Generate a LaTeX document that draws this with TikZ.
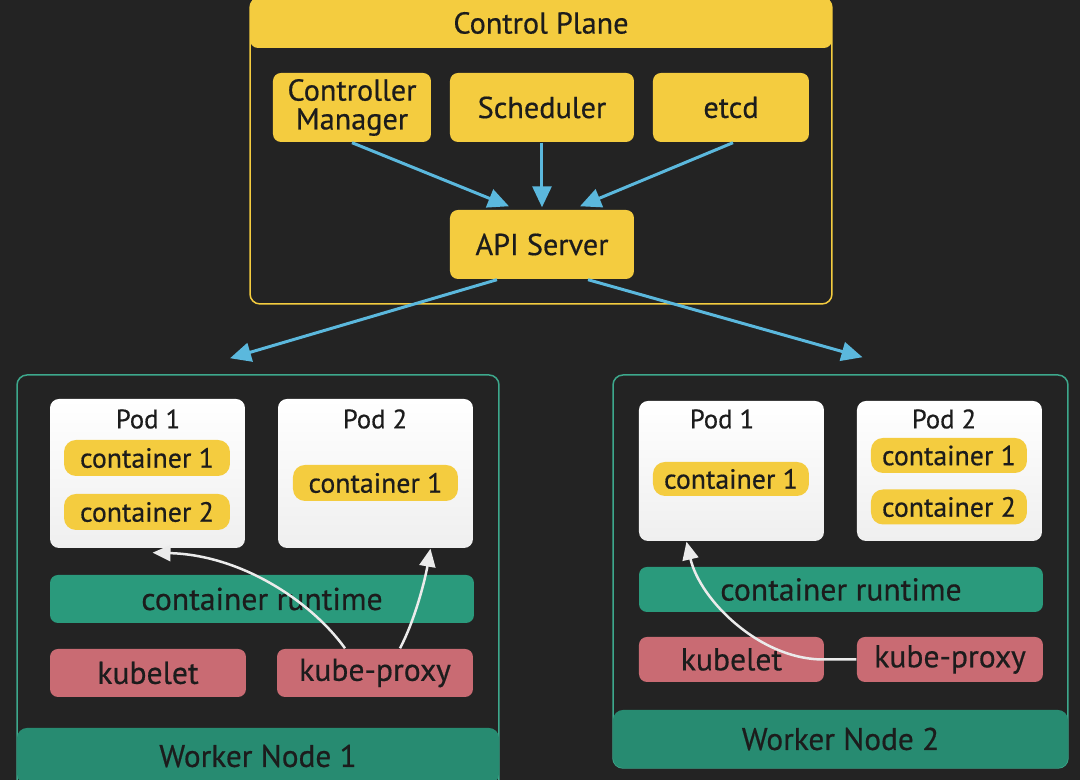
\documentclass[tikz,border=0pt]{standalone}
\usepackage{fontspec}
\setmainfont[FakeBold=0.5]{PT Sans}
\usepackage{tikz}
\usetikzlibrary{arrows.meta}
\definecolor{bgdark}{HTML}{232323}
\definecolor{cpyellow}{HTML}{F4CC3F}
\definecolor{teal}{HTML}{2A9A7C}
\definecolor{tealdark}{HTML}{278B71}
\definecolor{tealline}{HTML}{3DA88C}
\definecolor{rose}{HTML}{C96B73}
\definecolor{skyblue}{HTML}{5BB8DD}
\definecolor{podgray}{HTML}{EFEFEF}
\definecolor{ink}{HTML}{1C1C1C}
\tikzstyle{plane}   = [rectangle, rounded corners=0.8mm, fill=cpyellow, text=ink,
                       align=center, inner sep=0pt, minimum height=6.9mm,
                       font=\fontsize{8.6}{8.2}\selectfont]
\tikzstyle{frame}   = [rectangle, rounded corners=1mm, inner sep=0pt]
\tikzstyle{pod}     = [rectangle, rounded corners=0.9mm, top color=white,
                       bottom color=podgray, inner sep=0pt]
\tikzstyle{podtitle}= [text=ink, inner sep=0pt, font=\fontsize{7.6}{8}\selectfont]
\tikzstyle{ctr}     = [rectangle, rounded corners=1.2mm, fill=cpyellow, text=ink,
                       inner sep=0pt, font=\fontsize{7.9}{8}\selectfont]
\tikzstyle{runtime} = [rectangle, rounded corners=0.8mm, fill=teal, text=ink,
                       inner sep=0pt, font=\fontsize{9}{9}\selectfont]
\tikzstyle{agent}   = [rectangle, rounded corners=0.8mm, fill=rose, text=ink,
                       inner sep=0pt, font=\fontsize{9}{9}\selectfont]
\tikzstyle{footer}  = [rectangle, rounded corners=1mm, fill=tealdark, text=ink,
                       inner sep=0pt, font=\fontsize{8.9}{9}\selectfont]
\tikzstyle{bluearrow}  = [draw=skyblue, line width=0.3mm,
                          -{Triangle[length=2.1mm,width=1.9mm]}]
\tikzstyle{whitearrow} = [draw=white!92!black, line width=0.25mm,
                          -{Triangle[length=1.8mm,width=1.6mm]}]

\begin{document}
\begin{tikzpicture}[x=0.1mm, y=-0.1mm]
\fill[bgdark] (0,0) rectangle (1080,780);
\useasboundingbox (0,0) rectangle (1080,780);

% control plane
\node (cpframe) [frame, draw=cpyellow, line width=0.15mm,
                 minimum width=58.2mm, minimum height=30.6mm] at (541,151) {};
\node (cp)   [plane, minimum width=58.2mm, minimum height=5mm] at (541,23) {Control Plane};
\node (cm)   [plane, minimum width=15.8mm] at (352,107.5) {Controller\\Manager};
\node (sch)  [plane, minimum width=18.4mm] at (542,107.5) {Scheduler};
\node (etcd) [plane, minimum width=15.6mm] at (731,107.5) {etcd};
\node (api)  [plane, minimum width=18.4mm] at (542,244.5) {API Server};

% worker node 1
\node (w1)     [frame, draw=tealline, line width=0.15mm,
                minimum width=48.2mm, minimum height=42mm] at (258,585) {};
\node (w1foot) [footer, minimum width=48.2mm, minimum height=5.6mm] at (258,756) {Worker Node 1};
\node (p11)  [pod, minimum width=19.5mm, minimum height=14.9mm] at (147.5,473.5) {};
\node (p11t) [podtitle] at (148,419) {Pod 1};
\node (c111) [ctr, minimum width=16.6mm, minimum height=3.6mm] at (147,458) {container 1};
\node (c112) [ctr, minimum width=16.6mm, minimum height=3.6mm] at (147,512) {container 2};
\node (p12)  [pod, minimum width=19.5mm, minimum height=14.9mm] at (375.5,473.5) {};
\node (p12t) [podtitle] at (375,419) {Pod 2};
\node (c121) [ctr, minimum width=16.5mm, minimum height=3.6mm] at (375.5,483) {container 1};
\node (rt1)  [runtime, minimum width=42.4mm, minimum height=4.8mm] at (262,599) {container runtime};
\node (kl1)  [agent, minimum width=19.6mm, minimum height=4.8mm] at (148,673) {kubelet};
\node (kp1)  [agent, minimum width=19.6mm, minimum height=4.8mm] at (375,673) {kube-proxy};

% worker node 2
\node (w2)     [frame, draw=tealline, line width=0.15mm,
                minimum width=45.5mm, minimum height=39.3mm] at (840.5,571.5) {};
\node (w2foot) [footer, minimum width=45.5mm, minimum height=5.8mm] at (840.5,739) {Worker Node 2};
\node (p21)  [pod, minimum width=18.5mm, minimum height=14mm] at (731.5,471) {};
\node (p21t) [podtitle] at (722,419) {Pod 1};
\node (c211) [ctr, minimum width=15.6mm, minimum height=3.4mm] at (731,479) {container 1};
\node (p22)  [pod, minimum width=18.5mm, minimum height=14mm] at (949.5,471) {};
\node (p22t) [podtitle] at (944,419) {Pod 2};
\node (c221) [ctr, minimum width=15.6mm, minimum height=3.5mm] at (949,455.5) {container 1};
\node (c222) [ctr, minimum width=15.6mm, minimum height=3.5mm] at (949,507) {container 2};
\node (rt2)  [runtime, minimum width=40.4mm, minimum height=4.5mm] at (841,589.5) {container runtime};
\node (kl2)  [agent, minimum width=18.5mm, minimum height=4.5mm] at (731.5,659.5) {kubelet};
\node (kp2)  [agent, minimum width=18.6mm, minimum height=4.5mm] at (950,659.5) {kube-proxy};

% connectors
\draw [bluearrow] (cm.south) -- ([xshift=-3.3mm,yshift=0.3mm]api.north);
\draw [bluearrow] (sch.south) -- ([yshift=0.2mm]api.north);
\draw [bluearrow] ([xshift=0.2mm]etcd.south) -- ([xshift=3.8mm,yshift=0.3mm]api.north);
\draw [bluearrow] ([xshift=-4.5mm]api.south) -- ([xshift=-2.8mm,yshift=1.6mm]w1.north);
\draw [bluearrow] ([xshift=4.6mm]api.south) -- ([xshift=2.2mm,yshift=1.7mm]w2.north);

\draw [whitearrow] ([xshift=-3mm]kp1.north) .. controls (310,600) and (240,555)
      .. ([xshift=0.5mm,yshift=-0.4mm]p11.south);
\draw [whitearrow] ([xshift=2.5mm]kp1.north) .. controls (415,620) and (425,580)
      .. ([xshift=5.5mm]p12.south);
\draw [whitearrow] (kp2.west) -- ++(-32,0) .. controls (760,660) and (700,600)
      .. ([xshift=-4.5mm]p21.south);
\end{tikzpicture}
\end{document}
